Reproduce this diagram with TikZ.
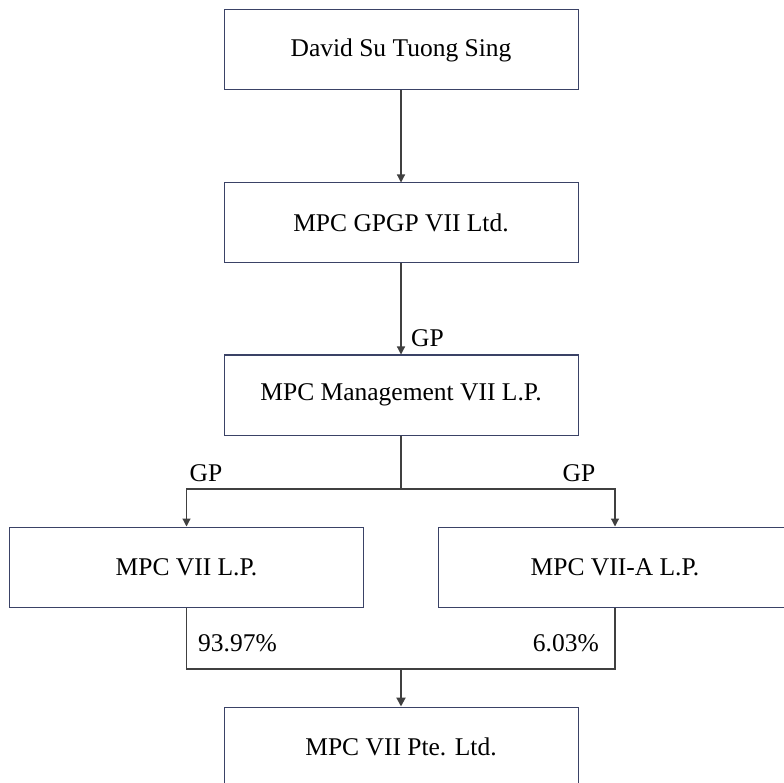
\documentclass[tikz,border=0pt]{standalone}
\usepackage{fontspec}
\setmainfont{Liberation Serif}
\usetikzlibrary{arrows.meta}
\definecolor{boxline}{HTML}{3A4266}
\definecolor{conn}{HTML}{404040}
\begin{document}
\begin{tikzpicture}[x=1pt,y=-1pt,
  entity/.style={draw=boxline, line width=1pt, fill=white, minimum width=354pt, minimum height=80pt, inner sep=0pt, font=\fontsize{25.5}{30}\selectfont},
  lbl/.style={inner sep=0pt, font=\fontsize{25.5}{30}\selectfont},
  conline/.style={draw=conn, line width=1.2pt},
  arr/.style={conline, -{Triangle[length=8pt,width=8pt]}},
  boldarr/.style={draw=conn, line width=2pt, -{Triangle[length=9pt,width=9pt]}}]
\fill[white] (0,0) rectangle (784,783);
\useasboundingbox (0,0) rectangle (784,783);
\node[entity] (a) at (401,50) {David Su Tuong Sing};
\node[entity] (b) at (401,223) {MPC GPGP VII Ltd.};
\node[entity] (c) at (401,395) {MPC Management VII L.P.};
\node[entity] (l) at (186.5,567) {MPC VII L.P.};
\node[entity] (r) at (615,567) {MPC VII-A L.P.};
\node[entity] (d) at (401,747) {MPC VII Pte. Ltd.};
\coordinate (j) at (401,489);
\coordinate (k) at (401,669);
\draw[arr] (a.south) -- (b.north);
\draw[arr] (b.south) -- (c.north);
\draw[conline] (c.south) -- (j);
\draw[arr] (j) -| (l.north);
\draw[arr] (j) -| (r.north);
\draw[conline] (l.south) |- (k) -| (r.south);
\draw[boldarr] (k) -- (d.north);
\node[lbl, anchor=west] (gp1) at (411,338) {GP};
\node[lbl] (gp2) at (206,473) {GP};
\node[lbl] (gp3) at (579,473) {GP};
\node[lbl, anchor=west] (p1) at (198,643) {93.97\%};
\node[lbl, anchor=east] (p2) at (599,643) {6.03\%};
\end{tikzpicture}
\end{document}
